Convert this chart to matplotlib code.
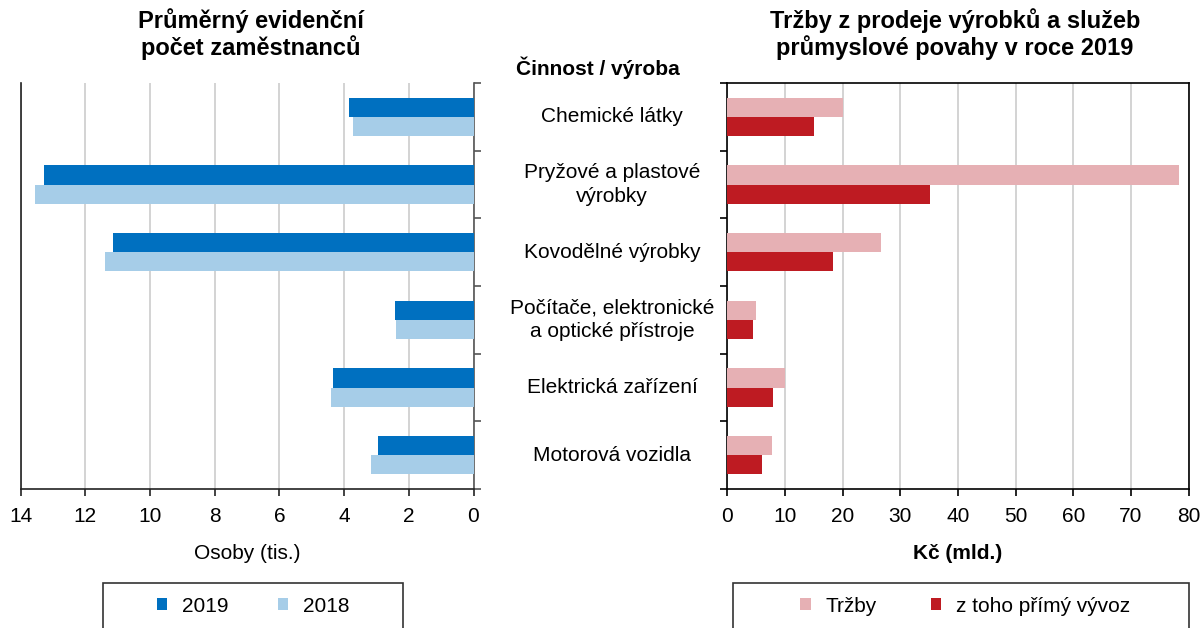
import matplotlib.pyplot as plt
from matplotlib.patches import Rectangle
from matplotlib.transforms import blended_transform_factory
import numpy as np

plt.rcParams['font.family'] = ['Liberation Sans', 'DejaVu Sans']
plt.rcParams['font.size'] = 15

categories = ['Chemické látky', 'Pryžové a plastové\nvýrobky', 'Kovodělné výrobky',
              'Počítače, elektronické\na optické přístroje', 'Elektrická zařízení',
              'Motorová vozidla']
staff_2019 = [3.84, 13.28, 11.15, 2.44, 4.34, 2.94]
staff_2018 = [3.73, 13.56, 11.38, 2.40, 4.40, 3.16]
sales = [20.0, 78.4, 26.6, 5.0, 10.0, 7.8]
export = [15.0, 35.1, 18.3, 4.4, 8.0, 6.0]

c2019 = '#0070C0'
c2018 = '#A6CDE8'
c_sales = '#E6B0B4'
c_export = '#BE1B22'

W, H = 1203, 628
fig = plt.figure(figsize=(W / 100, H / 100), dpi=100)

def px_rect(x0, y0, x1, y1):
    return [x0 / W, 1 - y1 / H, (x1 - x0) / W, (y1 - y0) / H]

ax1 = fig.add_axes(px_rect(20.7, 83, 473.5, 489))
ax2 = fig.add_axes(px_rect(727.3, 83, 1188.5, 489))

n = len(categories)
y = np.arange(n)
h = 0.285

# left chart: employees
ax1.barh(y - h / 2, staff_2019, height=h, color=c2019, label='2019', zorder=3)
ax1.barh(y + h / 2, staff_2018, height=h, color=c2018, label='2018', zorder=3)
ax1.set_xlim(14, 0)
ax1.set_xticks(range(0, 15, 2))
ax1.set_ylim(n - 0.5, -0.5)
ax1.set_yticks(np.arange(n + 1) - 0.5)
ax1.yaxis.tick_right()
ax1.set_yticklabels([])
ax1.spines['top'].set_visible(False)
for s in ['left', 'right', 'bottom']:
    ax1.spines[s].set_linewidth(1.2)
    ax1.spines[s].set_color('#222222')
ax1.spines['right'].set_color('#555555')
ax1.grid(axis='x', color='#c8c8c8', linewidth=1.1, zorder=0)
ax1.tick_params(axis='x', length=5, width=1.2, pad=8, colors='#222222', labelcolor='black')
ax1.tick_params(axis='y', length=5, width=1.2, color='#555555')
ax1.set_xlabel('Osoby (tis.)', labelpad=13)

# right chart: sales
ax2.barh(y - h / 2, sales, height=h, color=c_sales, label='Tržby', zorder=3)
ax2.barh(y + h / 2, export, height=h, color=c_export, label='z toho přímý vývoz', zorder=3)
ax2.set_xlim(0, 80)
ax2.set_xticks(range(0, 81, 10))
ax2.set_ylim(n - 0.5, -0.5)
ax2.set_yticks(np.arange(n + 1) - 0.5)
ax2.set_yticklabels([])
for s in ax2.spines.values():
    s.set_linewidth(1.2)
    s.set_color('black')
ax2.grid(axis='x', color='#c8c8c8', linewidth=1.1, zorder=0)
ax2.tick_params(axis='x', length=5, width=1.2, pad=8)
ax2.tick_params(axis='y', length=5, width=1.2)
ax2.set_xlabel('Kč (mld.)', labelpad=13, fontweight='bold')

# category labels in the middle
tr = blended_transform_factory(fig.transFigure, ax2.transData)
for yi, cat in zip(y, categories):
    ax2.text(612 / W, yi, cat, transform=tr, ha='center', va='center',
             linespacing=1.35, clip_on=False)
fig.text(598 / W, 1 - 68 / H, 'Činnost / výroba', ha='center', va='center',
         fontweight='bold')

# titles
fig.text(251 / W, 1 - 34 / H, 'Průměrný evidenční\npočet zaměstnanců', ha='center',
         va='center', fontweight='bold', linespacing=1.12, fontsize=17)
fig.text(955 / W, 1 - 34 / H, 'Tržby z prodeje výrobků a služeb\nprůmyslové povahy v roce 2019',
         ha='center', va='center', fontweight='bold', linespacing=1.12, fontsize=17)

# legends with boxes running off the bottom edge
for (x0, x1), ax, cx, csp in [((102.5, 402.5), ax1, 253, 2.4), ((732.5, 1188.5), ax2, 965, 2.6)]:
    fig.patches.append(Rectangle((x0 / W, 1 - 660 / H), (x1 - x0) / W, (660 - 583) / H,
                                 transform=fig.transFigure, fill=False,
                                 edgecolor='#333333', linewidth=1.2))
    handles, labels = ax.get_legend_handles_labels()
    fig.legend(handles, labels, loc='center', bbox_to_anchor=(cx / W, 1 - 606 / H),
               ncol=2, frameon=False, handlelength=0.5, handleheight=0.5,
               handletextpad=0.7, columnspacing=csp, fontsize=15)

fig.savefig('out.png', dpi=100)
